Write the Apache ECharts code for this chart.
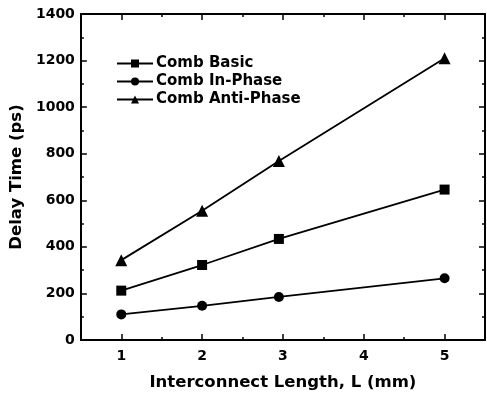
<!DOCTYPE html>
<html>
<head>
<meta charset="utf-8">
<script src="https://cdn.jsdelivr.net/npm/echarts@6/dist/echarts.min.js"></script>
<style>
  html, body { margin: 0; padding: 0; background: #fff; }
  #chart { width: 487px; height: 396px; }
</style>
</head>
<body>
<div id="chart"></div>
<script>
// 数据
var lengths = [1, 2, 2.95, 5];
var combBasic = [212, 322, 434, 646];
var combInPhase = [110, 147, 185, 265];
var combAntiPhase = [343, 555, 769, 1210];
var xMajorTicks = [1, 2, 3, 4, 5];
var xMinorTicks = [1.5, 2.5, 3.5, 4.5];

var font = 'DejaVu Sans';

function pairs(ys) {
    return lengths.map(function(x, i) { return [x, ys[i]]; });
}

var myChart = echarts.init(document.getElementById('chart'));

var lineCol = '#000';
function xAxisDef(pos, ticks, len, showLine, showLabel) {
    return {
        type: 'value',
        position: pos,
        min: 0.5,
        max: 5.5,
        axisLine: { show: showLine, onZero: false, lineStyle: { color: lineCol, width: 2 } },
        axisTick: { show: true, inside: true, length: len, customValues: ticks, lineStyle: { color: lineCol, width: 1.5 } },
        axisLabel: showLabel ? {
            customValues: xMajorTicks,
            formatter: function(v) { return String(v); },
            color: '#000', fontFamily: font, fontWeight: 'bold', fontSize: 14, margin: 9
        } : { show: false },
        splitLine: { show: false }
    };
}
function yAxisDef(pos, showLabel) {
    return {
        type: 'value',
        position: pos,
        min: 0,
        max: 1400,
        interval: 200,
        axisLine: { show: true, onZero: false, lineStyle: { color: lineCol, width: 2 } },
        axisTick: { show: true, inside: true, length: 6, lineStyle: { color: lineCol, width: 1.5 } },
        minorTick: { show: true, splitNumber: 2, length: 3, lineStyle: { color: lineCol, width: 1.5 } },
        axisLabel: showLabel ? {
            formatter: function(v) { return String(v); },
            color: '#000', fontFamily: font, fontWeight: 'bold', fontSize: 14, margin: 6
        } : { show: false },
        splitLine: { show: false },
        minorSplitLine: { show: false }
    };
}

var bottomAxis = xAxisDef('bottom', xMajorTicks, 6, true, true);
bottomAxis.name = 'Interconnect Length, L (mm)';
bottomAxis.nameLocation = 'middle';
bottomAxis.nameGap = 34;
bottomAxis.nameTextStyle = { color: '#000', fontFamily: font, fontWeight: 'bold', fontSize: 16.5 };

var leftAxis = yAxisDef('left', true);
leftAxis.name = 'Delay Time (ps)';
leftAxis.nameLocation = 'middle';
leftAxis.nameGap = 43;
leftAxis.nameTextStyle = { color: '#000', fontFamily: font, fontWeight: 'bold', fontSize: 16.5 };

function seriesDef(name, symbol, size, ys) {
    return {
        name: name,
        type: 'line',
        xAxisIndex: 0,
        yAxisIndex: 0,
        data: pairs(ys),
        symbol: symbol,
        symbolSize: size,
        showAllSymbol: true,
        lineStyle: { color: '#000', width: 1.8 },
        itemStyle: { color: '#000' }
    };
}

var option = {
    animation: false,
    grid: { left: 77, right: 2, top: 14, bottom: 56, containLabel: false },
    legend: {
        left: 111,
        top: 51,
        orient: 'vertical',
        itemGap: 3,
        itemWidth: 36,
        itemHeight: 10,
        textStyle: { color: '#000', fontFamily: font, fontWeight: 'bold', fontSize: 15, padding: [0, 0, 0, -2] },
        data: ['Comb Basic', 'Comb In-Phase', 'Comb Anti-Phase']
    },
    xAxis: [
        bottomAxis,
        xAxisDef('bottom', xMinorTicks, 3, false, false),
        xAxisDef('top', xMajorTicks, 6, true, false),
        xAxisDef('top', xMinorTicks, 3, false, false)
    ],
    yAxis: [
        leftAxis,
        yAxisDef('right', false)
    ],
    series: [
        seriesDef('Comb Basic', 'rect', 10, combBasic),
        seriesDef('Comb In-Phase', 'circle', 10, combInPhase),
        seriesDef('Comb Anti-Phase', 'triangle', 12, combAntiPhase)
    ]
};

myChart.setOption(option);

window.addEventListener('resize', function() {
    myChart.resize();
});
</script>
</body>
</html>
